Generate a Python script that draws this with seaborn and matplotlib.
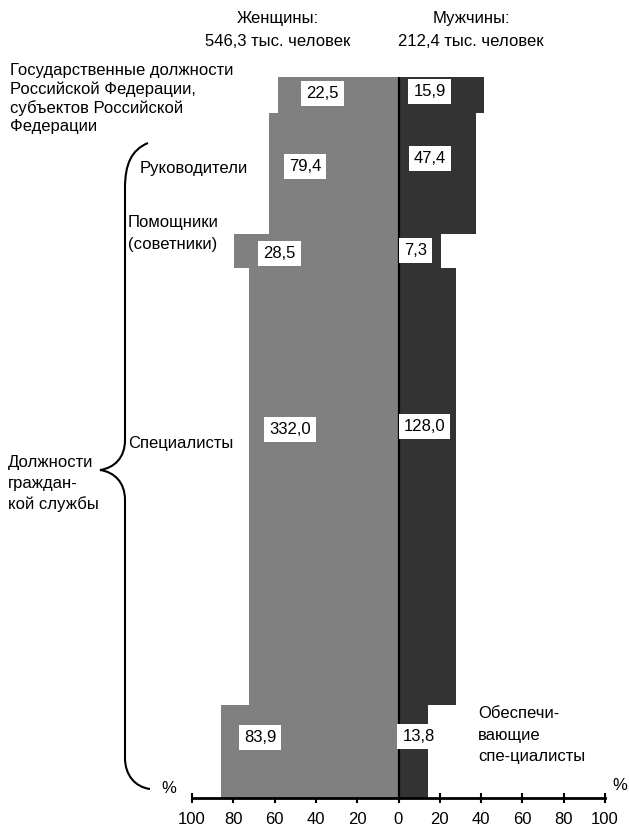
import matplotlib
matplotlib.use("Agg")
import numpy as np
import pandas as pd
import matplotlib.pyplot as plt
import seaborn as sns
from matplotlib.path import Path
from matplotlib.patches import PathPatch

# данные (тыс. человек)
categories = ["Государственные должности", "Руководители", "Помощники (советники)",
              "Специалисты", "Обеспечивающие специалисты"]
women = [22.5, 79.4, 28.5, 332.0, 83.9]
men = [15.9, 47.4, 7.3, 128.0, 13.8]
women_total = "546,3"
men_total = "212,4"
tick_values = [-100, -80, -60, -40, -20, 0, 20, 40, 60, 80, 100]
tick_labels = ["100", "80", "60", "40", "20", "0", "20", "40", "60", "80", "100"]

# положение подписей значений (x в %, y в тыс. человек от верха)
women_label_x = [-36.8, -45.2, -57.6, -52.5, -67.0]
men_label_x = [15.0, 15.3, 8.2, 12.6, 9.7]
women_label_y = [16.9, 93.8, 185.5, 371.4, 695.0]
men_label_y = [14.8, 85.9, 182.8, 367.8, 694.4]

W, H = 629, 830
WOMEN_COLOR = "#808080"
MEN_COLOR = "#333333"
FS = 12

sns.set_theme(style="white")
plt.rcParams['font.family'] = ['Liberation Sans', 'DejaVu Sans']
plt.rcParams['text.color'] = 'black'
plt.rcParams['xtick.color'] = 'black'


def px(x, y):
    """пиксели изображения -> доли фигуры"""
    return x / W, 1 - y / H


df = pd.DataFrame({"category": categories, "women": women, "men": men})
df["total"] = df["women"] + df["men"]
df["w_pct"] = df["women"] / df["total"] * 100
df["m_pct"] = df["men"] / df["total"] * 100
df["top"] = df["total"].cumsum() - df["total"]
df["mid"] = df["top"] + df["total"] / 2

fig = plt.figure(figsize=(W / 100, H / 100), dpi=100)
fig.patch.set_facecolor("white")
ax = fig.add_axes([192 / W, 1 - 797.5 / H, 413 / W, 720.5 / H])

ax.barh(df["mid"], -df["w_pct"], height=df["total"], left=0,
        color=WOMEN_COLOR, linewidth=0)
ax.barh(df["mid"], df["m_pct"], height=df["total"], left=0,
        color=MEN_COLOR, linewidth=0)
ax.axvline(0, color="black", lw=1.6)

ax.set_xlim(-100, 100)
ax.set_ylim(df["total"].sum(), 0)
ax.set_yticks([])
ax.set_xticks(tick_values, tick_labels)
ax.tick_params(axis="x", bottom=True, direction="inout", length=7, width=1.5,
               pad=7, labelsize=FS, colors="black")
sns.despine(ax=ax, left=True)
ax.spines["bottom"].set_linewidth(2)
ax.spines["bottom"].set_color("black")
ax.set_facecolor("white")

fmt = lambda v: f"{v:.1f}".replace(".", ",")
box = dict(boxstyle="square,pad=0.3", fc="white", ec="none")
for i, row in df.iterrows():
    ax.text(women_label_x[i], women_label_y[i], fmt(row["women"]),
            ha="center", va="center", fontsize=FS, bbox=box)
    ax.text(men_label_x[i], men_label_y[i], fmt(row["men"]),
            ha="center", va="center", fontsize=FS, bbox=box)


def lines(x, ys, texts, ha="left"):
    for y, t in zip(ys, texts):
        fx, fy = px(x, y)
        fig.text(fx, fy, t, ha=ha, va="center", fontsize=FS)


# заголовки
lines(277.5, [19, 42], ["Женщины:", f"{women_total} тыс. человек"], ha="center")
lines(471, [19, 42], ["Мужчины:", f"{men_total} тыс. человек"], ha="center")

# подписи категорий
lines(10, [70, 89, 108, 127], ["Государственные должности", "Российской Федерации,",
                               "субъектов Российской", "Федерации"])
lines(140, [169], ["Руководители"])
lines(128, [223, 244], ["Помощники", "(советники)"])
lines(128, [443], ["Специалисты"])
lines(8, [462, 483, 504], ["Должности", "граждан-", "кой службы"])
lines(478, [713, 735, 756], ["Обеспечи-", "вающие", "спе-циалисты"])
lines(169, [788], ["%"], ha="center")
lines(620, [785], ["%"], ha="center")

# фигурная скобка
brace_px = [
    ((148, 143), Path.MOVETO),
    ((131, 150), Path.CURVE4), ((125, 165), Path.CURVE4), ((125, 188), Path.CURVE4),
    ((125, 440), Path.LINETO),
    ((125, 458), Path.CURVE4), ((114, 468), Path.CURVE4), ((100, 470), Path.CURVE4),
    ((114, 472), Path.CURVE4), ((125, 482), Path.CURVE4), ((125, 500), Path.CURVE4),
    ((125, 758), Path.LINETO),
    ((125, 775), Path.CURVE4), ((135, 787), Path.CURVE4), ((150, 789), Path.CURVE4),
]
verts = [px(*p) for p, _ in brace_px]
codes = [c for _, c in brace_px]
fig.add_artist(PathPatch(Path(verts, codes), transform=fig.transFigure,
                         fill=False, lw=1.5, ec="black"))

fig.savefig("out.png", dpi=100, facecolor="white")
